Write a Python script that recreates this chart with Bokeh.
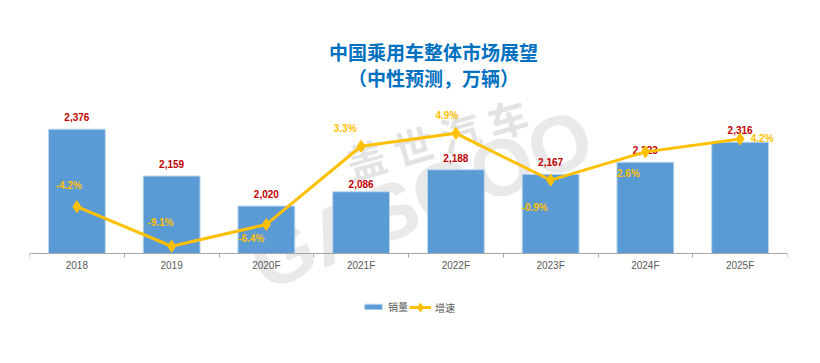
from bokeh.plotting import figure
from bokeh.models import (Range1d, FixedTicker, Legend, LegendItem, Label,
                          ColumnDataSource)
from bokeh.embed import file_html
from bokeh.resources import INLINE

# ---- data ----
categories = ["2018", "2019", "2020F", "2021F", "2022F", "2023F", "2024F", "2025F"]
sales = [2376, 2159, 2020, 2086, 2188, 2167, 2223, 2316]          # 销量 (万辆)
growth = [-4.2, -9.1, -6.4, 3.3, 4.9, -0.9, 2.6, 4.2]             # 增速 (%)
title_line1 = "中国乘用车整体市场展望"
title_line2 = "（中性预测，万辆）"

# ---- label offsets (style / layout only) ----
bar_label_dy = [-12, -12, -12, -8, -12, -12, -12, -12]
pct_label_dx = [-8, -11, -15, -16, -9, -16, -17, 22]
pct_label_dy = [-21, -24, 14, -18, -18, 27, 22, 0]

n = len(categories)
xs = [i + 0.5 for i in range(n)]

W, H = 820, 363
LEFT, RIGHT, BOTTOM = 29, 33, 40
FRAME_W = W - LEFT - RIGHT          # 758
FRAME_H = H - BOTTOM                # 323
AXIS_Y = 253                        # pixel row of the category axis
K1 = 150 / 695                      # px per 万辆
K2 = 150 / 18.6                     # px per %
below = FRAME_H - AXIS_Y

p = figure(width=W, height=H, output_backend="svg", toolbar_location=None,
           x_range=Range1d(0, n),
           y_range=Range1d(1800 - below / K1, 1800 + AXIS_Y / K1),
           y_axis_location=None,
           min_border_left=LEFT, min_border_right=RIGHT,
           min_border_top=0, min_border_bottom=BOTTOM)
p.extra_y_ranges = {"pct": Range1d(-10 - below / K2, -10 + AXIS_Y / K2),
                    "px": Range1d(0, FRAME_H)}
p.extra_x_ranges = {"px": Range1d(0, FRAME_W)}
p.outline_line_color = None
p.xgrid.visible = False
p.ygrid.visible = False
p.background_fill_color = "white"
p.border_fill_color = "white"

# watermark (behind everything)
wm1 = Label(x=407, y=185, x_range_name="px", y_range_name="px", text="盖 世 汽 车",
            text_font="Noto Sans CJK SC", text_font_style="bold", text_font_size="40px",
            text_color="#BFBFBF", text_alpha=0.45, angle=0.28,
            text_align="center", text_baseline="middle", level="underlay")
wm2 = Label(x=392, y=124, x_range_name="px", y_range_name="px", text="GASGOO",
            text_font="Liberation Sans", text_font_style="bold", text_font_size="80px",
            text_color="#BFBFBF", text_alpha=0.35, angle=0.38,
            text_align="center", text_baseline="middle", level="underlay")
p.add_layout(wm1)
p.add_layout(wm2)

src = ColumnDataSource(dict(
    x=xs, sales=sales, growth=growth,
    sales_lbl=[f"{v:,}" for v in sales],
    pct_lbl=[f"{v:.1f}%" for v in growth],
    bdy=bar_label_dy, pdx=pct_label_dx, pdy=pct_label_dy,
))

bars = p.vbar(x="x", top="sales", bottom=1800, width=0.6, source=src,
              fill_color="#5B9BD5", line_color="#BDD7EE", line_width=1)
p.text(x="x", y="sales", text="sales_lbl", source=src, y_offset="bdy",
       text_align="center", text_baseline="middle",
       text_font_size="10px", text_font_style="bold", text_color="#C00000",
       text_font={"value": "Liberation Sans"})

line = p.line(x="x", y="growth", source=src, y_range_name="pct",
              line_color="#FFC000", line_width=3)
pts = p.scatter(x="x", y="growth", source=src, y_range_name="pct", marker="diamond",
                size=12, fill_color="#FFC000", line_color="#FFC000")
p.text(x="x", y="growth", text="pct_lbl", source=src, y_range_name="pct",
       x_offset="pdx", y_offset="pdy", text_align="center", text_baseline="middle",
       text_font_size="10px", text_font_style="bold", text_color="#FFC000",
       text_font={"value": "Liberation Sans"})

# x axis: labels at category centres, tick marks at category boundaries
ax = p.xaxis[0]
ax.fixed_location = 1800
ax.ticker = FixedTicker(ticks=xs, minor_ticks=list(range(n + 1)))
ax.major_label_overrides = {x: c for x, c in zip(xs, categories)}
ax.major_tick_line_color = None
ax.major_tick_out = 0
ax.major_tick_in = 0
ax.minor_tick_out = 4
ax.minor_tick_in = 0
ax.minor_tick_line_color = "#A6A6A6"
ax.axis_line_color = "#A6A6A6"
ax.axis_line_width = 1
ax.major_label_standoff = 2
ax.major_label_text_font = "Liberation Sans"
ax.major_label_text_font_size = "10px"
ax.major_label_text_color = "#595959"

# title
t1 = Label(x=404, y=FRAME_H - 51, x_range_name="px", y_range_name="px", text=title_line1,
           text_font="Noto Sans CJK SC", text_font_style="bold", text_font_size="19px",
           text_color="#0070C0", text_align="center", text_baseline="middle")
t2 = Label(x=404, y=FRAME_H - 77, x_range_name="px", y_range_name="px", text=title_line2,
           text_font="Noto Sans CJK SC", text_font_style="bold", text_font_size="19px",
           text_color="#0070C0", text_align="center", text_baseline="middle")
p.add_layout(t1)
p.add_layout(t2)

legend_style = dict(orientation="horizontal",
                    label_text_font="Noto Sans CJK SC", label_text_font_size="10px",
                    label_text_color="#595959", label_standoff=4, spacing=0,
                    padding=0, margin=0, border_line_alpha=0, background_fill_alpha=0)
leg_bar = Legend(items=[LegendItem(label="销量", renderers=[bars])],
                 location=(333, FRAME_H - 314), glyph_width=22, glyph_height=7,
                 label_height=14, **legend_style)
leg_line = Legend(items=[LegendItem(label="增速", renderers=[line, pts])],
                  location=(380, FRAME_H - 318), glyph_width=22, glyph_height=22,
                  label_height=14, **legend_style)
p.add_layout(leg_bar)
p.add_layout(leg_line)

open("out.html", "w").write(file_html(p, INLINE))
